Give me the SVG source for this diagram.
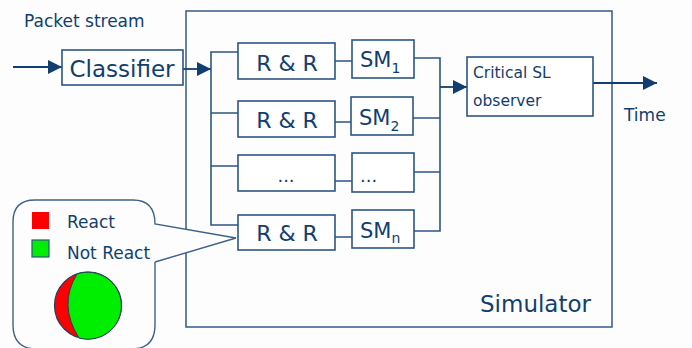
<svg xmlns="http://www.w3.org/2000/svg" width="692" height="348" viewBox="0 0 692 348">
<style>
text{font-family:"DejaVu Sans","Liberation Sans",sans-serif;fill:#113e6e}
.box{fill:#fff;stroke:#2c5684;stroke-width:1.6}
.ln{fill:none;stroke:#2c5684;stroke-width:1.6}
.arr{fill:none;stroke:#113e6e;stroke-width:1.8}
.big{font-size:22px}
.sm{font-size:21px}
.sub{font-size:14px}
</style>
<defs>
<marker id="ah" viewBox="0 0 14 14" refX="14" refY="7" markerWidth="14" markerHeight="14" markerUnits="userSpaceOnUse" orient="auto">
<path d="M0,0 L14,7 L0,14 z" fill="#113e6e"/>
</marker>
</defs>
<rect width="692" height="348" fill="#fdfdfd"/>

<g id="simulator">
<rect x="186" y="11" width="426" height="316" fill="none" stroke="#40658f" stroke-width="1.6"/>
<text x="480" y="312" style="font-size:23px">Simulator</text>
</g>

<text id="packet-stream" x="24" y="27" style="font-size:17px">Packet stream</text>
<text id="time" x="624" y="121" style="font-size:17px">Time</text>

<g id="connectors">
<line class="arr" x1="13" y1="67" x2="62" y2="67" marker-end="url(#ah)"/>
<line class="arr" x1="183" y1="69" x2="211" y2="69" marker-end="url(#ah)"/>
<path class="ln" d="M238,52 H211 V225 H238 M211,113 H238 M211,166 H238"/>
<path class="ln" d="M335,61 H352 M335,122 H351 M335,181 H352 M335,237 H352"/>
<path class="ln" d="M414,58 H440 V231 H414 M413,118 H440 M414,172 H440"/>
<line class="arr" x1="440" y1="87" x2="467" y2="87" marker-end="url(#ah)"/>
<line class="arr" x1="593" y1="83" x2="657" y2="83" marker-end="url(#ah)"/>
</g>

<g id="classifier">
<rect class="box" x="62" y="50" width="121" height="35"/>
<text x="122" y="77" text-anchor="middle" style="font-size:23px">Classifier</text>
</g>

<g id="rr1"><rect class="box" x="238" y="43" width="97" height="36"/><text class="big" x="287" y="71" text-anchor="middle">R &amp; R</text></g>
<g id="sm1"><rect class="box" x="352" y="40" width="62" height="38"/><text class="sm" x="360" y="67">SM<tspan class="sub" dy="6">1</tspan></text></g>

<g id="rr2"><rect class="box" x="238" y="101" width="97" height="36"/><text class="big" x="287" y="128" text-anchor="middle">R &amp; R</text></g>
<g id="sm2"><rect class="box" x="351" y="97" width="62" height="38"/><text class="sm" x="359" y="125">SM<tspan class="sub" dy="6">2</tspan></text></g>

<g id="rr3"><rect class="box" x="238" y="155" width="97" height="36"/><text x="286" y="182" text-anchor="middle" style="font-size:18px">...</text></g>
<g id="sm3"><rect class="box" x="352" y="153" width="62" height="39"/><text x="360" y="182" style="font-size:18px">...</text></g>

<g id="rrn"><rect class="box" x="238" y="215" width="97" height="35"/><text class="big" x="287" y="241" text-anchor="middle">R &amp; R</text></g>
<g id="smn"><rect class="box" x="352" y="210" width="62" height="38"/><text class="sm" x="360" y="238">SM<tspan class="sub" dy="5">n</tspan></text></g>

<g id="critical-sl-observer">
<rect class="box" x="467" y="57" width="126" height="59"/>
<text x="473" y="78" style="font-size:15.5px">Critical SL</text>
<text x="473" y="106" style="font-size:15.5px">observer</text>
</g>

<g id="callout">
<path d="M155,262 V325 Q155,349 131,349 H37 Q13,349 13,325 V222 Q13,200 35,200 H133 Q155,200 155,224 L236,238 L155,262" fill="#fdfdfd" stroke="#3e6187" stroke-width="1.4"/>
<rect x="32" y="212" width="17" height="17" fill="#ff0000"/>
<rect x="32" y="240" width="17" height="17" fill="#00ee00" stroke="#2c5684" stroke-width="1.2"/>
<text x="67" y="228" style="font-size:17px">React</text>
<text x="67" y="259" style="font-size:17px">Not React</text>
<circle cx="88" cy="305.5" r="33.5" fill="#ff0000" stroke="#1e3f5c" stroke-width="1.2"/>
<path d="M77,274 Q58,305 79,338 A33.5,33.5 0 1 0 77,274 z" fill="#00ee00" stroke="#1e3f5c" stroke-width="1"/>
</g>
</svg>
